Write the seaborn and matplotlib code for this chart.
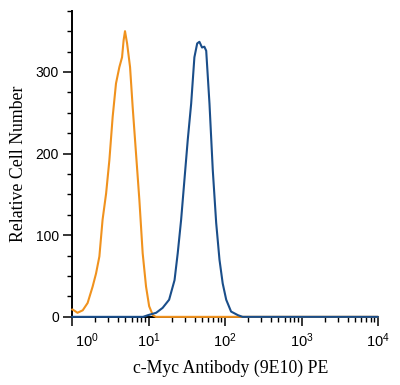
import numpy as np
import pandas as pd
import seaborn as sns
import matplotlib.pyplot as plt
import matplotlib.transforms as mtransforms
from matplotlib.ticker import FixedLocator, NullFormatter

# --------------------
# Data
# --------------------
control_x = [1.0, 1.02, 1.18, 1.38, 1.60, 1.86, 2.06, 2.28, 2.51, 2.79, 3.08, 3.40,
             3.76, 4.16, 4.51, 4.73, 4.93, 5.25, 5.74, 6.21, 6.87, 7.60, 8.39,
             9.29, 10.2, 11.4, 12.5, 10000]
control_y = [9, 9, 5, 8, 17, 37, 53, 74, 119, 151, 192, 245,
             286, 306, 318, 339, 350, 335, 306, 257, 200, 143, 78,
             37, 13, 2, 0, 0]

myc_x = [1.0, 8.5, 9.8, 12.6, 15.3, 18.6, 21.9, 24.1, 26.7, 29.5, 32.6, 36.1,
         39.8, 43.3, 46.3, 50.1, 53.7, 56.8, 62.7, 69.2, 76.7, 84.7, 93.3,
         103.7, 120, 148, 170, 10000]
myc_y = [0, 0, 2, 5, 11, 21, 45, 78, 119, 168, 217, 261,
         318, 335, 337, 330, 331, 326, 261, 180, 115, 70, 41,
         21, 6.5, 2, 0, 0]

x_ticks = [1, 10, 100, 1000, 10000]
x_ticklabels = [r"$\mathregular{10^{%d}}$" % i for i in range(5)]
y_ticks = [0, 100, 200, 300]

df = pd.concat([
    pd.DataFrame({"x": control_x, "y": control_y, "sample": "control"}),
    pd.DataFrame({"x": myc_x, "y": myc_y, "sample": "c-Myc"}),
])

# --------------------
# Plot
# --------------------
sns.set_style("ticks")
plt.rcParams["font.family"] = ["Liberation Sans", "DejaVu Sans"]
plt.rcParams["text.color"] = "black"
plt.rcParams["axes.labelcolor"] = "black"
plt.rcParams["xtick.color"] = "black"
plt.rcParams["ytick.color"] = "black"

fig = plt.figure(figsize=(4, 3.85), dpi=100)
ax = fig.add_axes([0.18, 0.177, 0.765, 0.795])
ax.set_xscale("log")

sns.lineplot(data=df, x="x", y="y", hue="sample",
             palette={"control": "#F0921E", "c-Myc": "#1A4E8A"},
             hue_order=["control", "c-Myc"], sort=False, estimator=None,
             linewidth=1.5, legend=False, ax=ax, clip_on=False, zorder=3)

ax.set_xlim(1, 10000)
ax.set_ylim(0, 375)
ax.set_xticks(x_ticks)
ax.set_xticklabels(x_ticklabels, fontsize=10.5)
ax.xaxis.set_minor_locator(FixedLocator(
    [m * 10 ** d for d in range(4) for m in range(2, 10)]))
ax.xaxis.set_minor_formatter(NullFormatter())
ax.set_yticks(y_ticks)
ax.set_yticklabels([str(v) for v in y_ticks], fontsize=10)
ax.yaxis.set_minor_locator(FixedLocator(np.arange(0, 400, 25)))

ax.tick_params(which="major", length=6.5, width=1.1, color="black",
               labelcolor="black", pad=3)
ax.tick_params(which="minor", length=3.5, width=1.0, color="black")
ax.tick_params(axis="x", which="major", pad=4)

# the first decade label sits nudged to the right of the y axis
shift = mtransforms.ScaledTranslation(0.15, 0, fig.dpi_scale_trans)
first = ax.get_xticklabels()[0]
first.set_transform(first.get_transform() + shift)

for side in ["top", "right"]:
    ax.spines[side].set_visible(False)
for side in ["left", "bottom"]:
    ax.spines[side].set_linewidth(1.4)
    ax.spines[side].set_color("black")

serif = ["Liberation Serif", "DejaVu Serif"]
ax.set_xlabel("c-Myc Antibody (9E10) PE", family=serif, fontsize=12.8,
              labelpad=7, color="black")
ax.xaxis.label.set_x(0.52)
ax.set_ylabel("Relative Cell Number", family=serif, fontsize=12.8,
              labelpad=6, color="black")

fig.savefig("out.png", dpi=100)
